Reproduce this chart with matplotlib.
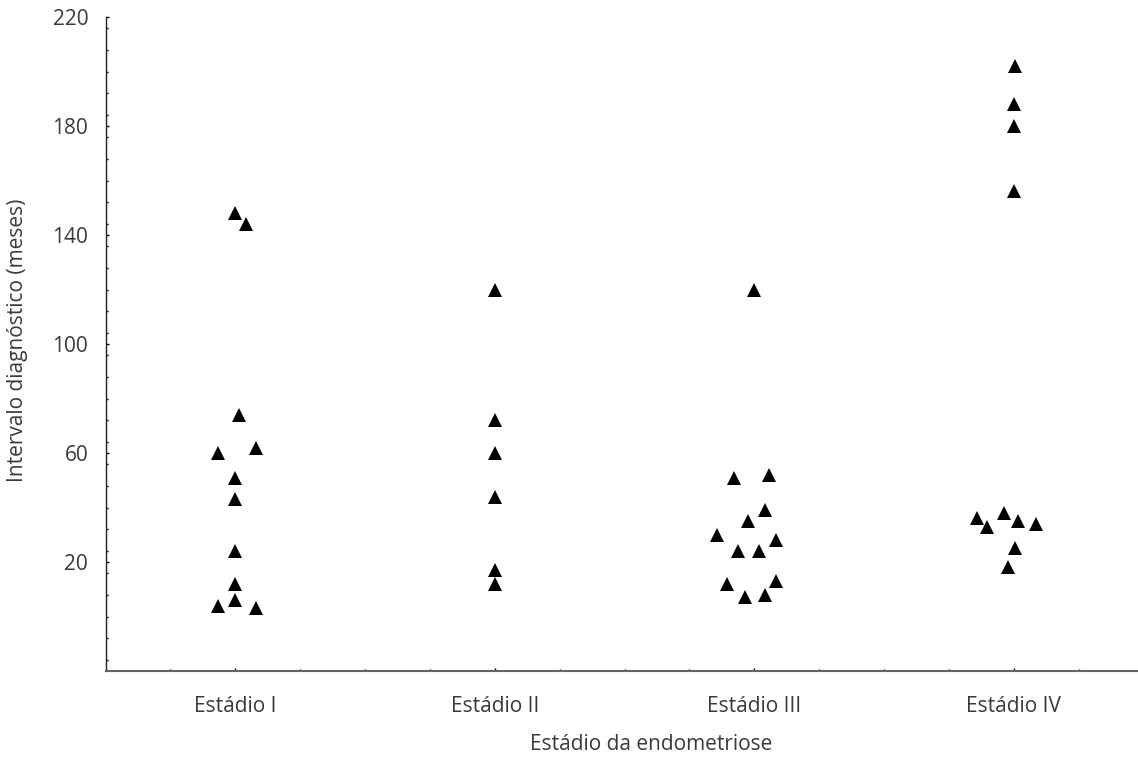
import numpy as np
import matplotlib
matplotlib.use("Agg")
import matplotlib.pyplot as plt
from matplotlib.ticker import MultipleLocator

plt.rcParams['font.family'] = ['Open Sans', 'DejaVu Sans']

# Categories on the x axis
stages = ["Estádio I", "Estádio II", "Estádio III", "Estádio IV"]

# Diagnostic interval (months) per stage
stage_1 = [148, 144, 74, 62, 60, 51, 43, 24, 12, 6, 4, 3]
stage_2 = [120, 72, 60, 44, 17, 12]
stage_3 = [120, 52, 51, 39, 35, 30, 28, 24, 24, 13, 12, 8, 7]
stage_4 = [202, 188, 180, 156, 38, 36, 35, 34, 33, 25, 18]

# horizontal spread of overlapping points (fraction of a category step)
jitter_1 = [0, 0.04, 0.013, 0.081, -0.067, 0, 0, 0, 0, 0, -0.067, 0.081]
jitter_2 = [0, 0, 0, 0, 0, 0]
jitter_3 = [0, 0.057, -0.078, 0.042, -0.023, -0.144, 0.082, -0.064, 0.017, 0.082, -0.104, 0.041, -0.037]
jitter_4 = [0.005, 0, 0, 0, -0.036, -0.143, 0.018, 0.085, -0.103, 0.005, -0.023]

values = [stage_1, stage_2, stage_3, stage_4]
jitters = [jitter_1, jitter_2, jitter_3, jitter_4]

W, H = 1138, 764
fig = plt.figure(figsize=(W / 100, H / 100), dpi=100)
ax = fig.add_axes([105.5 / W, (H - 671) / H, 1038 / W, (671 - 17) / H])

for i, (vals, jit) in enumerate(zip(values, jitters)):
    x = i + 1 + np.array(jit)
    ax.plot(x, vals, linestyle="none", marker="^", markersize=10,
            color="black", markeredgewidth=0, clip_on=False)

ax.set_xlim(0.5, 4.5)
ax.set_ylim(-20, 220)

ax.set_xticks([1, 2, 3, 4])
ax.set_xticklabels(stages)
ax.xaxis.set_minor_locator(MultipleLocator(0.25))
ax.set_yticks([20, 60, 100, 140, 180, 220])
ax.yaxis.set_minor_locator(MultipleLocator(8))

for side in ["top", "right"]:
    ax.spines[side].set_visible(False)
ax.spines["left"].set_color("#222222")
ax.spines["bottom"].set_color("#666666")
ax.spines["left"].set_linewidth(1.0)
ax.spines["bottom"].set_linewidth(1.5)

txt = "#3a3a3a"
ax.tick_params(axis="both", which="major", direction="in", length=2.5,
               width=1, labelsize=15, labelcolor=txt, color="black")
ax.tick_params(axis="both", which="minor", direction="in", length=1.5,
               width=1, color="black")
ax.tick_params(axis="x", which="major", pad=18)
ax.tick_params(axis="y", which="major", pad=12.5)

fig.text(18 / W, 1 - 340 / H, "Intervalo diagnóstico (meses)", rotation=90,
         ha="center", va="center", fontsize=15, color=txt)
fig.text(651 / W, 1 - 745 / H, "Estádio da endometriose",
         ha="center", va="center", fontsize=15, color=txt)

fig.savefig("out.png", dpi=100)
